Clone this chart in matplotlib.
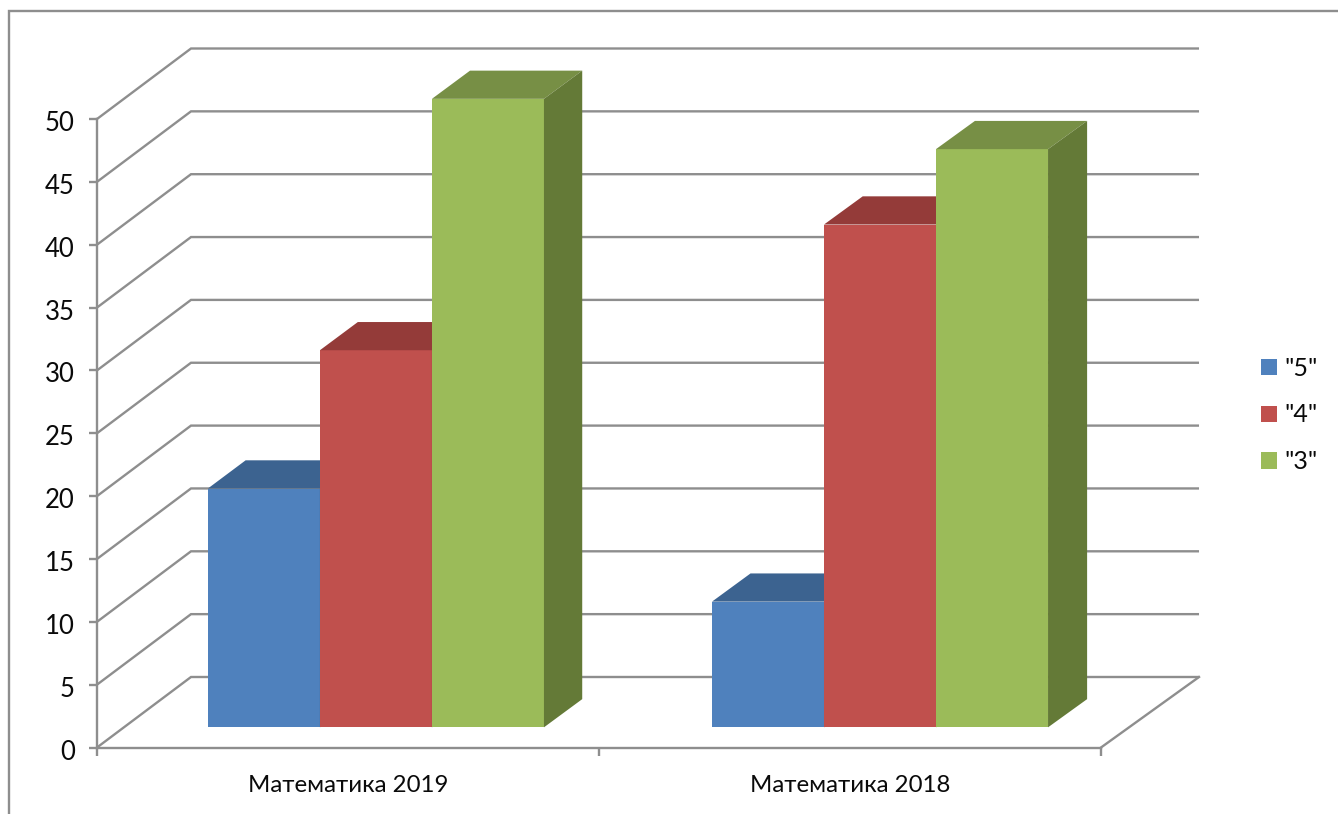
import matplotlib
matplotlib.use("Agg")
import matplotlib.pyplot as plt
from matplotlib.lines import Line2D
from matplotlib.patches import Patch
from matplotlib.transforms import ScaledTranslation
import logging

categories = ["Математика 2019", "Математика 2018"]
series_names = ['"5"', '"4"', '"3"']
values_5 = [19, 10]
values_4 = [30, 40]
values_3 = [50, 46]
y_ticks = list(range(0, 55, 5))

front = ["#4F81BD", "#C0504D", "#9BBB59"]
top = ["#3C6390", "#943B39", "#778F45"]
side = ["#35587F", "#7F3230", "#647A37"]
GRID = "#8E8E8E"
TXT = "#0A0A0A"

W, H = 1338, 814
logging.getLogger("matplotlib.font_manager").setLevel(logging.ERROR)
plt.rcParams["font.family"] = ["Lato", "Open Sans", "DejaVu Sans"]
fig = plt.figure(figsize=(W / 100, H / 100), dpi=100, facecolor="white")
ax = fig.add_axes([97 / W, 1 - 747.5 / H, 1004 / W, 628.5 / H], facecolor="none")
ax.set_xlim(0, 2)
ax.set_ylim(0, 50)

# depth vector of the oblique projection, in data units
DX = 94 / 502
DY = 70.5 / 12.57
WIDEN = 0.004
BAR_SPREAD = 1.003


def proj(x, y, d):
    return x * (1 + WIDEN * d) + DX * d, y + DY * d


lw = 1.7
# walls
for v in y_ticks:
    x0, y0 = proj(0, v, 0)
    x1, y1 = proj(0, v, 1)
    x2, y2 = proj(2, v, 1)
    ax.plot([x0, x1, x2], [y0, y1, y2], color=GRID, lw=lw, clip_on=False,
            solid_joinstyle="miter", solid_capstyle="butt", zorder=1)
x1, y1 = proj(2, 0, 0)
x2, y2 = proj(2, 0, 1)
ax.plot([x1, x2], [y1, y2], color=GRID, lw=lw, clip_on=False, zorder=1)

# bars
gap = 1.5
bw = 1 / (3 + gap)
d0, d1 = 0.286, 0.686
all_values = [values_5, values_4, values_3]


def pts(corners):
    return list(zip(*[proj(x * BAR_SPREAD, y, d) for x, y, d in corners]))


for c in range(len(categories)):
    left = c + (1 - 3 * bw) / 2
    for s, vals in enumerate(all_values):
        a = left + s * bw
        b = a + bw
        v = vals[c]
        z = 3 + c * 10 + s
        ax.fill(*pts([(a, 0, d0), (b, 0, d0), (b, v, d0), (a, v, d0)]),
                color=front[s], lw=0, clip_on=False, zorder=z)
        ax.fill(*pts([(a, v, d0), (b, v, d0), (b, v, d1), (a, v, d1)]),
                color=top[s], lw=0, clip_on=False, zorder=z)
        ax.fill(*pts([(b, 0, d0), (b, 0, d1), (b, v, d1), (b, v, d0)]),
                color=side[s], lw=0, clip_on=False, zorder=z)

# axes
for k in ("top", "right"):
    ax.spines[k].set_visible(False)
for k in ("left", "bottom"):
    ax.spines[k].set_color(GRID)
    ax.spines[k].set_linewidth(lw)
ax.set_yticks(y_ticks)
ax.set_xticks([0, 1, 2])
ax.set_xticklabels([])
ax.set_xticks([0.5, 1.5], categories, minor=True)
ax.tick_params(axis="both", which="major", length=6, width=lw, color=GRID,
               labelsize=18.5, labelcolor=TXT)
ax.tick_params(axis="y", which="major", pad=10)
ax.tick_params(axis="x", which="minor", length=0, labelsize=17.3, labelcolor=TXT, pad=18)
shift = ScaledTranslation(0, -2 * 0.72 / 72, fig.dpi_scale_trans)
for lab in ax.get_yticklabels():
    lab.set_transform(lab.get_transform() + shift)
for lab in ax.get_xticklabels(minor=True):
    lab.set_transform(lab.get_transform() + shift)

# legend
handles = [Patch(facecolor=f, edgecolor="none", label=n) for f, n in zip(front, series_names)]
fig.legend(handles=handles, loc="center left", bbox_to_anchor=(1261 / W, 1 - 415 / H),
           frameon=False, fontsize=18, labelcolor=TXT, handlelength=0.63, handleheight=0.63,
           handletextpad=0.3, labelspacing=0.95, borderpad=0.0, borderaxespad=0)

# outer frame
fig.add_artist(Line2D([9 / W, 9 / W, 1], [0, 1 - 10.5 / H, 1 - 10.5 / H],
                      color=GRID, lw=lw, solid_joinstyle="miter"))

fig.savefig("out.png", dpi=100, facecolor="white")
